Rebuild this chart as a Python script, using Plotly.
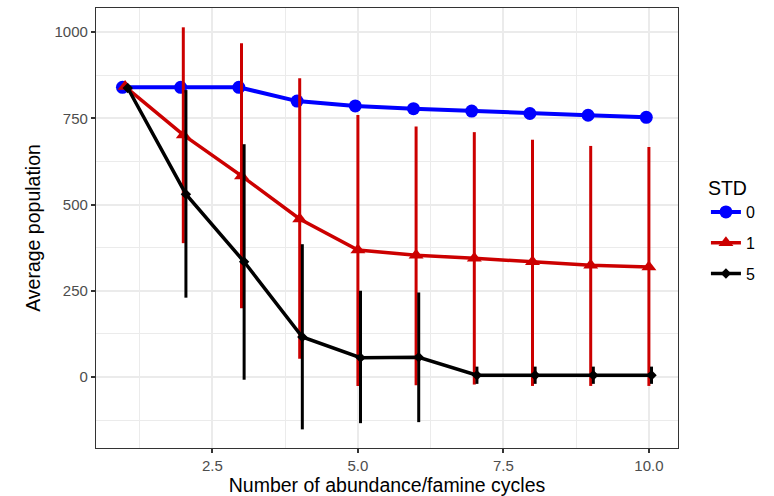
import plotly.graph_objects as go

cycles = [1, 2, 3, 4, 5, 6, 7, 8, 9, 10]

std0_mean = [840, 840, 840, 800, 786, 778, 771, 764, 759, 753]
std0_low = [840, 840, 840, 800, 786, 778, 771, 764, 759, 753]
std0_high = [840, 840, 840, 800, 786, 778, 771, 764, 759, 753]

std1_mean = [842, 702, 583, 458, 368, 353, 344, 334, 324, 319]
std1_low = [842, 388, 199, 53, -26, -24, -22, -26, -26, -26]
std1_high = [842, 1014, 968, 866, 760, 726, 710, 688, 670, 667]

std5_mean = [838, 530, 334, 116, 56, 57, 5, 5, 5, 5]
std5_low = [838, 230, -8, -152, -134, -131, -20, -20, -20, -20]
std5_high = [838, 832, 675, 385, 250, 245, 30, 30, 30, 30]

labels = ["0", "1", "5"]
colors = ["#0000FF", "#CC0000", "#000000"]
symbols = ["circle", "triangle-up", "diamond"]
msizes = [13, 13, 8]
lwidths = [4, 3.5, 3.5]
dodge = [-0.045, 0.0, 0.045]

series = [
    (std0_mean, std0_low, std0_high),
    (std1_mean, std1_low, std1_high),
    (std5_mean, std5_low, std5_high),
]

FONT = "Liberation Sans, Arial, sans-serif"

fig = go.Figure()
for i, (m, lo, hi) in enumerate(series):
    fig.add_trace(go.Scatter(
        x=[c + dodge[i] for c in cycles],
        y=m,
        mode="lines+markers",
        name=labels[i],
        legendgroup=labels[i],
        line=dict(color=colors[i], width=lwidths[i]),
        marker=dict(color=colors[i], symbol=symbols[i], size=msizes[i],
                    line=dict(width=0)),
        error_y=dict(type="data", symmetric=False,
                     array=[h - v for h, v in zip(hi, m)],
                     arrayminus=[v - l for v, l in zip(m, lo)],
                     color=colors[i], thickness=3, width=0,
                     visible=i > 0),
    ))

axis_common = dict(
    showline=True, mirror=True, linecolor="#333333", linewidth=1.2,
    showgrid=True, gridcolor="#EBEBEB", gridwidth=2,
    ticks="outside", ticklen=4, tickwidth=1.5, tickcolor="#333333",
    tickfont=dict(family=FONT, size=15, color="#4D4D4D"),
    zeroline=False,
)

fig.update_xaxes(
    **axis_common,
    range=[0.5, 10.5],
    tickvals=[2.5, 5.0, 7.5, 10.0],
    ticktext=["2.5", "5.0", "7.5", "10.0"],
    minor=dict(tickvals=[1.25, 3.75, 6.25, 8.75], showgrid=True,
               gridcolor="#EBEBEB", gridwidth=1, ticks=""),
    title=dict(text="Number of abundance/famine cycles",
               font=dict(family=FONT, size=19.5, color="#000000"),
               standoff=2),
)
fig.update_yaxes(
    **axis_common,
    range=[-206, 1070],
    tickvals=[0, 250, 500, 750, 1000],
    ticktext=["0", "250", "500", "750", "1000"],
    minor=dict(tickvals=[-125, 125, 375, 625, 875], showgrid=True,
               gridcolor="#EBEBEB", gridwidth=1, ticks=""),
    title=dict(text="Average population",
               font=dict(family=FONT, size=19.5, color="#000000"),
               standoff=8),
)

fig.update_layout(
    width=774, height=496,
    margin=dict(l=96, r=96, t=8, b=48, autoexpand=False),
    paper_bgcolor="white", plot_bgcolor="white",
    font=dict(family=FONT, color="#000000"),
    legend=dict(
        title=dict(text="STD", font=dict(size=19.5, color="#000000")),
        font=dict(size=16, color="#000000"),
        x=1.048, xanchor="left", y=0.495, yanchor="middle",
        tracegroupgap=7, bgcolor="rgba(0,0,0,0)",
    ),
)

fig.write_html("out.html",
               config={"displayModeBar": False},
               post_script="document.body.style.margin='0';")
